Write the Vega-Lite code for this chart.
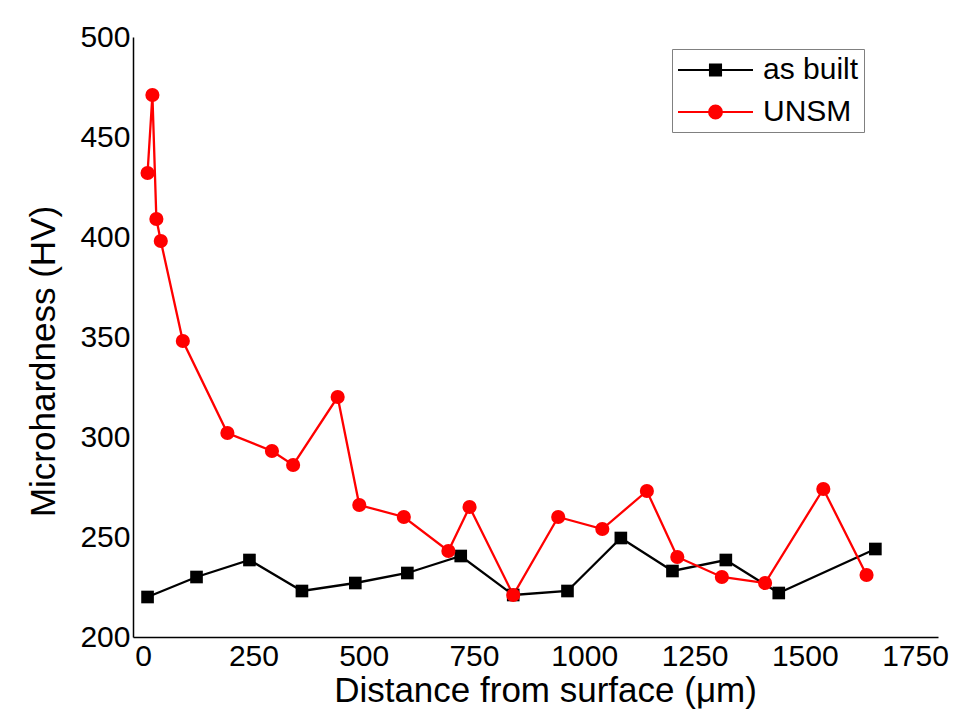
{
  "$schema": "https://vega.github.io/schema/vega-lite/v6.json",
  "width": 805,
  "height": 600,
  "autosize": {"type": "none"},
  "padding": {"left": 133, "top": 37, "right": 16, "bottom": 87},
  "background": "#ffffff",
  "config": {
    "view": {"stroke": null},
    "font": "Liberation Sans",
    "axis": {
      "ticks": false,
      "grid": false,
      "domainColor": "#000000",
      "domainWidth": 1.5,
      "labelFont": "Liberation Sans",
      "labelFontSize": 30,
      "labelColor": "#000000",
      "labelFlush": false,
      "labelOverlap": false,
      "titleFont": "Liberation Sans",
      "titleFontSize": 35,
      "titleFontWeight": "normal",
      "titleColor": "#000000"
    }
  },
  "data": {
    "values": [
      {"series": "as built", "x": 10, "y": 220},
      {"series": "as built", "x": 121, "y": 230},
      {"series": "as built", "x": 241, "y": 238.5},
      {"series": "as built", "x": 360, "y": 223},
      {"series": "as built", "x": 481, "y": 227},
      {"series": "as built", "x": 599, "y": 232},
      {"series": "as built", "x": 720, "y": 240.5},
      {"series": "as built", "x": 839, "y": 221},
      {"series": "as built", "x": 962, "y": 223},
      {"series": "as built", "x": 1083, "y": 249.5},
      {"series": "as built", "x": 1200, "y": 233},
      {"series": "as built", "x": 1321, "y": 238.5},
      {"series": "as built", "x": 1441, "y": 222},
      {"series": "as built", "x": 1660, "y": 244},
      {"series": "UNSM", "x": 10, "y": 432},
      {"series": "UNSM", "x": 21, "y": 471},
      {"series": "UNSM", "x": 30, "y": 409},
      {"series": "UNSM", "x": 40, "y": 398},
      {"series": "UNSM", "x": 90, "y": 348},
      {"series": "UNSM", "x": 191, "y": 302},
      {"series": "UNSM", "x": 292, "y": 293},
      {"series": "UNSM", "x": 340, "y": 286},
      {"series": "UNSM", "x": 441, "y": 320},
      {"series": "UNSM", "x": 490, "y": 266},
      {"series": "UNSM", "x": 591, "y": 260},
      {"series": "UNSM", "x": 692, "y": 243},
      {"series": "UNSM", "x": 740, "y": 265},
      {"series": "UNSM", "x": 839, "y": 221},
      {"series": "UNSM", "x": 941, "y": 260},
      {"series": "UNSM", "x": 1041, "y": 254},
      {"series": "UNSM", "x": 1142, "y": 273},
      {"series": "UNSM", "x": 1211, "y": 240},
      {"series": "UNSM", "x": 1312, "y": 230},
      {"series": "UNSM", "x": 1410, "y": 227},
      {"series": "UNSM", "x": 1542, "y": 274},
      {"series": "UNSM", "x": 1640, "y": 231}
    ]
  },
  "encoding": {
    "x": {
      "field": "x",
      "type": "quantitative",
      "scale": {"domain": [-23, 1802], "nice": false, "zero": false},
      "axis": {
        "title": "Distance from surface (μm)",
        "values": [0, 250, 500, 750, 1000, 1250, 1500, 1750],
        "format": "d",
        "labelPadding": 4,
        "titlePadding": 2,
        "titleX": 412
      }
    },
    "y": {
      "field": "y",
      "type": "quantitative",
      "scale": {"domain": [200, 500], "nice": false, "zero": false},
      "axis": {
        "title": "Microhardness (HV)",
        "values": [200, 250, 300, 350, 400, 450, 500],
        "format": "d",
        "labelPadding": 3,
        "titlePadding": 18,
        "titleY": 324
      }
    },
    "color": {
      "field": "series",
      "type": "nominal",
      "scale": {"domain": ["as built", "UNSM"], "range": ["#000000", "#ff0000"]},
      "legend": {
        "orient": "none",
        "legendX": 539,
        "legendY": 12,
        "title": null,
        "labelFont": "Liberation Sans",
        "labelFontSize": 30,
        "labelColor": "#000000",
        "symbolSize": 900,
        "symbolStrokeWidth": 2,
        "symbolOpacity": 1,
        "strokeColor": "#808080",
        "padding": 5,
        "rowPadding": 11,
        "labelOffset": 54,
        "encode": {
          "symbols": {
            "update": {
              "shape": {"signal": "datum.value === 'as built' ? 'M-1,0H4M1.13,-0.37H1.87V0.37H1.13Z' : 'M-1,0H4M1.93,0A0.43,0.43,0,1,1,1.07,0A0.43,0.43,0,1,1,1.93,0Z'"},
              "size": {"value": 900},
              "fill": {"signal": "datum.value === 'as built' ? '#000000' : '#ff0000'"},
              "stroke": {"signal": "datum.value === 'as built' ? '#000000' : '#ff0000'"},
              "strokeWidth": {"value": 2}
            }
          }
        }
      }
    }
  },
  "layer": [
    {
      "mark": {"type": "line", "strokeWidth": 2.3},
      "encoding": {
        "detail": {"field": "series"}
      }
    },
    {
      "transform": [{"filter": "datum.series === 'as built'"}],
      "mark": {"type": "point", "filled": true, "opacity": 1, "shape": "square", "size": 160}
    },
    {
      "transform": [{"filter": "datum.series === 'UNSM'"}],
      "mark": {"type": "point", "filled": true, "opacity": 1, "shape": "circle", "size": 200}
    }
  ]
}
